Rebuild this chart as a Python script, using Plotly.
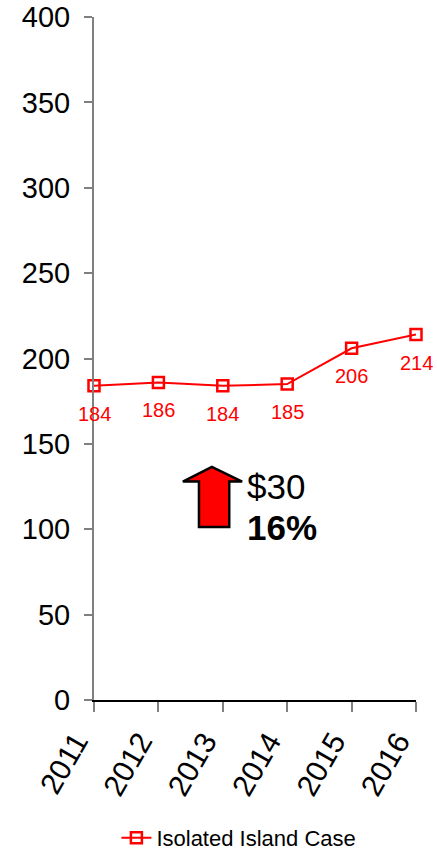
import plotly.graph_objects as go

years = [2011, 2012, 2013, 2014, 2015, 2016]
values = [184, 186, 184, 185, 206, 214]
labels = ["184", "186", "184", "185", "206", "214"]
y_ticks = [0, 50, 100, 150, 200, 250, 300, 350, 400]
series_name = "Isolated Island Case"

FONT = "Liberation Sans, Arial"

fig = go.Figure()
fig.add_trace(go.Scatter(
    x=years, y=values, name=series_name,
    mode="lines+markers",
    line=dict(color="#ff0000", width=2),
    marker=dict(symbol="square-open", size=11, color="#ff0000", line=dict(width=2.5, color="#ff0000")),
    cliponaxis=False,
))

for xv, yv, lab in zip(years, values, labels):
    fig.add_annotation(x=xv, y=yv, xref="x", yref="y", text=lab, showarrow=False,
                       xanchor="center", yanchor="middle", yshift=-28,
                       font=dict(family=FONT, size=20, color="#ff0000"))

# arrow annotation (data coordinates)
arrow = ("M 2012.63 101.3 L 2013.10 101.3 L 2013.10 127.9 L 2013.30 127.9 "
         "L 2012.83 136.5 L 2012.38 127.9 L 2012.63 127.9 Z")
fig.add_shape(type="path", path=arrow, xref="x", yref="y",
              fillcolor="#ff0000", line=dict(color="#000000", width=2.5))
fig.add_annotation(x=2013.34, y=125, xref="x", yref="y", text="$30", showarrow=False,
                   xanchor="left", yanchor="middle",
                   font=dict(family=FONT, size=35, color="#000000"))
fig.add_annotation(x=2013.34, y=101, xref="x", yref="y", text="<b>16%</b>", showarrow=False,
                   xanchor="left", yanchor="middle",
                   font=dict(family=FONT, size=35, color="#000000"))

fig.update_layout(
    width=437, height=855,
    margin=dict(l=94, r=21, t=17, b=155),
    plot_bgcolor="white", paper_bgcolor="white",
    showlegend=True,
    legend=dict(orientation="h", x=0.45, xanchor="center",
                yref="container", y=0.02, yanchor="middle",
                font=dict(family=FONT, size=22, color="#000000")),
    font=dict(family=FONT),
)
fig.update_xaxes(
    range=[2011, 2016], tickmode="array", tickvals=years, ticktext=[str(y) for y in years],
    showgrid=False, zeroline=False, showline=True, linecolor="#000000", linewidth=2,
    ticks="outside", ticklen=10, tickcolor="#808080", tickwidth=2,
    tickangle=-60, ticklabelshift=-18,
    tickfont=dict(size=30, color="#000000"), automargin=False,
)
fig.update_yaxes(
    range=[0, 400], tickmode="array", tickvals=y_ticks,
    showgrid=False, zeroline=False, showline=True, linecolor="#808080", linewidth=2,
    ticks="outside", ticklen=8, tickcolor="#808080", tickwidth=1.5,
    ticklabelstandoff=8,
    tickfont=dict(size=29, color="#000000"), automargin=False,
)

fig.write_html("out.html")
